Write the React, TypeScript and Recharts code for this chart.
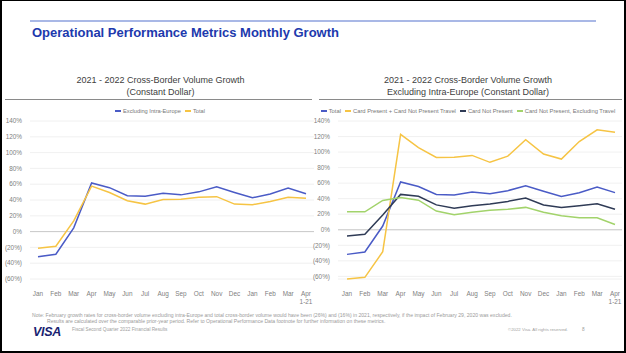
import React from 'react';
import { LineChart, Line, XAxis, YAxis, CartesianGrid, ReferenceLine } from 'recharts';

const months = ['Jan', 'Feb', 'Mar', 'Apr', 'May', 'Jun', 'Jul', 'Aug', 'Sep', 'Oct', 'Nov', 'Dec', 'Jan', 'Feb', 'Mar', 'Apr 1-21'];
const yTicks = [-60, -40, -20, 0, 20, 40, 60, 80, 100, 120, 140];

const exclIntraEurope = [-31.7, -28.6, 4.8, 61.6, 55.6, 45.5, 44.8, 48.6, 46.5, 50.3, 56.7, 49.5, 42.8, 47.6, 55, 47.8];
const totalCrossBorder = [-21, -18.5, 13.6, 57.6, 49.5, 39, 34.8, 40.6, 41, 43.6, 44.2, 34.8, 34, 38, 43.6, 42.3];

const cpCnpTravel = [-63.4, -61.3, -28.3, 122.7, 105.8, 93.1, 93.4, 95.7, 86.8, 94.8, 116, 97.5, 91, 113.5, 128.7, 125.6];
const cardNotPresent = [-8, -5.9, 19, 45.5, 43, 32, 27.8, 31, 33.3, 36.5, 40.8, 32, 28.8, 31, 33.5, 26.3];
const cnpExTravel = [23.3, 23.1, 37.8, 41.5, 38, 24, 19.3, 22.4, 25.2, 26.3, 28.8, 22.5, 18, 15.4, 15.4, 6.7];

const BLUE = '#4a5bc6';
const YELLOW = '#f6c444';
const NAVY = '#2f3b56';
const GREEN = '#a2d36b';
const FONT = '"Liberation Sans", Arial, sans-serif';

const leftSeries = [
  { key: 'excl', name: 'Excluding Intra-Europe', color: BLUE, values: exclIntraEurope },
  { key: 'total', name: 'Total', color: YELLOW, values: totalCrossBorder },
];
const rightSeries = [
  { key: 'total', name: 'Total', color: BLUE, values: exclIntraEurope },
  { key: 'cp', name: 'Card Present + Card Not Present Travel', color: YELLOW, values: cpCnpTravel },
  { key: 'cnp', name: 'Card Not Present', color: NAVY, values: cardNotPresent },
  { key: 'cnpx', name: 'Card Not Present, Excluding Travel', color: GREEN, values: cnpExTravel },
];

const buildData = (series: any[]) =>
  months.map((m, i) => {
    const row: any = { month: m };
    series.forEach((s) => (row[s.key] = s.values[i]));
    return row;
  });

const fmtPct = (v: number) => (v < 0 ? `(${Math.abs(v)}%)` : `${v}%`);

const XTick = (props: any) => {
  const { x, y, payload } = props;
  const parts = String(payload.value).split(' ');
  return (
    <text x={x} y={y + 15} textAnchor="middle" fontSize={6.4} fill="#808080" fontFamily={FONT}>
      {parts.map((p, i) => (
        <tspan key={i} x={x} dy={i === 0 ? '0.35em' : '1.15em'}>
          {p}
        </tspan>
      ))}
    </text>
  );
};

const Chart = ({ series, left, padding }: any) => (
  <div style={{ position: 'absolute', left, top: 116 }}>
    <LineChart width={314} height={193} data={buildData(series)} margin={{ top: 5, right: 0, left: 0, bottom: 0 }}>
      <CartesianGrid horizontal vertical={false} stroke="#ececec" strokeWidth={0.8} />
      <XAxis
        dataKey="month"
        axisLine={false}
        tickLine={false}
        tickSize={0}
        tickMargin={0}
        height={30}
        interval={0}
        padding={padding}
        tick={<XTick />}
      />
      <YAxis
        width={30}
        domain={[-60, 140]}
        ticks={yTicks}
        axisLine={false}
        tickLine={false}
        tickFormatter={fmtPct}
        tick={{ fontSize: 6.4, fill: '#808080', fontFamily: FONT }}
        interval={0}
      />
      <ReferenceLine y={0} stroke="#c4c4c4" strokeWidth={0.9} />
      {series.map((s: any) => (
        <Line
          key={s.key}
          dataKey={s.key}
          name={s.name}
          stroke={s.color}
          strokeWidth={1.5}
          dot={false}
          isAnimationActive={false}
          type="linear"
        />
      ))}
    </LineChart>
  </div>
);

const LegendRow = ({ series, left, width, fontSize }: any) => (
  <div
    style={{
      position: 'absolute',
      left,
      width,
      top: 107,
      height: 8,
      display: 'flex',
      justifyContent: 'center',
      alignItems: 'center',
      gap: 4,
      fontFamily: FONT,
      fontSize,
      color: '#777',
      whiteSpace: 'nowrap',
    }}
  >
    {series.map((s: any) => (
      <div key={s.key} style={{ display: 'flex', alignItems: 'center', gap: 2 }}>
        <div style={{ width: 6, height: 2, background: s.color }} />
        <span>{s.name}</span>
      </div>
    ))}
  </div>
);

const abs = (o: any): any => ({ position: 'absolute', whiteSpace: 'nowrap', fontFamily: FONT, ...o });

export default function App() {
  return (
    <div style={{ position: 'fixed', left: 0, top: 0, width: 626, height: 353, background: '#fff', overflow: 'hidden' }}>
      <div style={abs({ left: 30, top: 20, width: 566, height: 1.5, background: '#a9b8e6' })} />
      <div style={abs({ left: 32, top: 26, fontSize: 13, lineHeight: '14px', fontWeight: 'bold', color: '#2039ad' })}>
        Operational Performance Metrics Monthly Growth
      </div>

      <div style={abs({ left: 5, top: 74, width: 311, textAlign: 'center', fontSize: 9, lineHeight: '12px', color: '#404040' })}>
        2021 - 2022 Cross-Border Volume Growth
        <br />
        (Constant Dollar)
      </div>
      <div style={abs({ left: 318, top: 74, width: 300, textAlign: 'center', fontSize: 9, lineHeight: '12px', color: '#404040' })}>
        2021 - 2022 Cross-Border Volume Growth
        <br />
        Excluding Intra-Europe (Constant Dollar)
      </div>
      <div style={abs({ left: 5, top: 99, width: 307, height: 1, background: '#8a8a8a' })} />
      <div style={abs({ left: 319, top: 99, width: 303, height: 1, background: '#8a8a8a' })} />

      <LegendRow series={leftSeries} left={60} width={200} fontSize={5.7} />
      <LegendRow series={rightSeries} left={318} width={300} fontSize={5.8} />

      <Chart series={leftSeries} left={0} padding={{ left: 8, right: 8 }} />
      <Chart series={rightSeries} left={308} padding={{ left: 9, right: 7 }} />

      <div style={abs({ left: 32, top: 313, fontSize: 5.1, lineHeight: '5px', color: '#9a9a9a' })}>
        Note: February growth rates for cross-border volume excluding intra-Europe and total cross-border volume would have been (26%) and (16%) in 2021, respectively, if the impact of February 29, 2020 was excluded.
      </div>
      <div style={abs({ left: 47, top: 318.5, fontSize: 5.1, lineHeight: '5px', color: '#9a9a9a' })}>
        Results are calculated over the comparable prior-year period. Refer to Operational Performance Data footnote for further information on these metrics.
      </div>
      <div style={abs({ left: 33, top: 325, fontSize: 12.5, lineHeight: '14px', fontWeight: 'bold', fontStyle: 'italic', color: '#1a1f71', letterSpacing: -0.3 })}>
        VISA
      </div>
      <div style={abs({ left: 72, top: 327, fontSize: 4.7, lineHeight: '5px', color: '#a0a0a0' })}>
        Fiscal Second Quarter 2022 Financial Results
      </div>
      <div style={abs({ left: 508, top: 327, fontSize: 4.3, lineHeight: '5px', color: '#a0a0a0' })}>
        ©2022 Visa. All rights reserved.
      </div>
      <div style={abs({ left: 582, top: 327, fontSize: 4.7, lineHeight: '5px', color: '#a0a0a0' })}>8</div>

      <div
        style={abs({
          left: 0,
          top: 0,
          width: 626,
          height: 353,
          boxSizing: 'border-box',
          borderLeft: '2px solid #000',
          borderRight: '2px solid #000',
          borderBottom: '2px solid #000',
          borderTop: '1px solid #000',
          pointerEvents: 'none',
        })}
      />
    </div>
  );
}
